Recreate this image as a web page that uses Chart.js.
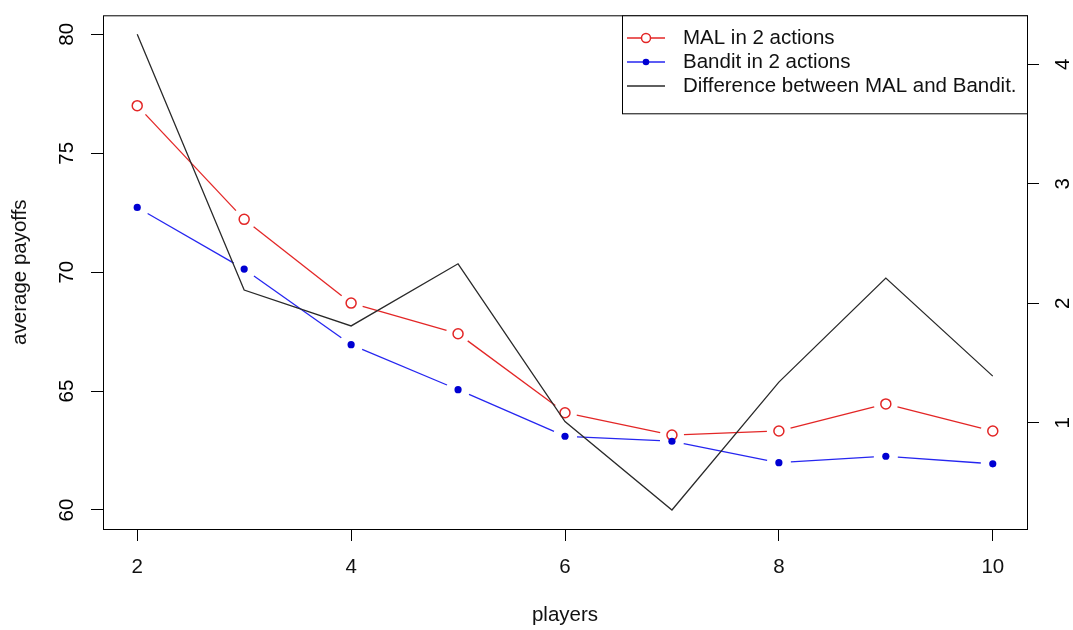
<!DOCTYPE html>
<html>
<head>
<meta charset="utf-8">
<title>average payoffs by players</title>
<script src="https://cdn.jsdelivr.net/npm/chart.js@4.4.1/dist/chart.umd.min.js"></script>
<style>
  html, body { margin: 0; padding: 0; background: #fff; }
  canvas { display: block; }
</style>
</head>
<body>
<canvas id="chart" width="1073" height="630"></canvas>
<script>
// values
const players = [2, 3, 4, 5, 6, 7, 8, 9, 10];
const malPayoffs = [77.0, 72.22, 68.70, 67.41, 64.09, 63.15, 63.32, 64.46, 63.32];
const banditPayoffs = [72.72, 70.13, 66.95, 65.06, 63.10, 62.89, 61.99, 62.26, 61.94];
const difference = [4.25, 2.11, 1.81, 2.33, 1.01, 0.27, 1.34, 2.21, 1.39];

// axis ticks
const xTicks = [2, 4, 6, 8, 10];
const payoffTicks = [60, 65, 70, 75, 80];
const diffTicks = [1, 2, 3, 4];
const payoffLimits = [60, 80];

const legendLabels = ["MAL in 2 actions", "Bandit in 2 actions", "Difference between MAL and Bandit."];

const FONT = "'Liberation Sans', Arial, Helvetica, sans-serif";
const FONT_SIZE = 20.5;
const RED = "#e32626";
const BLUE = "#2626f0";
const DOT_BLUE = "#0000d2";
const DARK = "#2a2a2a";

Chart.defaults.font.family = FONT;
Chart.defaults.font.size = FONT_SIZE;
Chart.defaults.color = "#000";

// R pads each axis range by 4%
function rRange(lo, hi) {
    const d = (hi - lo) * 0.04;
    return [lo - d, hi + d];
}

const xRange = rRange(players[0], players[players.length - 1]);
const yRange = rRange(payoffLimits[0], payoffLimits[1]);
const y2Range = rRange(Math.min(...difference), Math.max(...difference));

function points(ys) {
    return players.map((p, i) => ({ x: p, y: ys[i] }));
}

// type="b": leave a gap around each point
function gapDash(gap) {
    return ctx => {
        const len = Math.hypot(ctx.p1.x - ctx.p0.x, ctx.p1.y - ctx.p0.y);
        return [0, gap, Math.max(len - 2 * gap, 0), len + gap];
    };
}

function fixedTicks(values) {
    return scale => { scale.ticks = values.map(v => ({ value: v })); };
}

const tickGrid = {
    display: true,
    drawOnChartArea: false,
    drawTicks: true,
    tickLength: 12,
    color: "#000",
    lineWidth: 1
};

const rFrame = {
    id: "rFrame",
    afterDraw(chart) {
        const { ctx, chartArea: a, scales } = chart;
        ctx.save();

        // plot box
        ctx.strokeStyle = "#000";
        ctx.lineWidth = 1;
        ctx.strokeRect(a.left + 0.5, a.top + 0.5, a.right - a.left, a.bottom - a.top);

        // rotated y tick labels, like las=0
        ctx.fillStyle = "#000";
        ctx.font = FONT_SIZE + "px " + FONT;
        ctx.textAlign = "center";
        ctx.textBaseline = "middle";
        const sides = [[scales.y, payoffTicks, 67], [scales.y2, diffTicks, 1063]];
        for (const [scale, ticks, x] of sides) {
            for (const t of ticks) {
                ctx.save();
                ctx.translate(x, scale.getPixelForValue(t));
                ctx.rotate(-Math.PI / 2);
                ctx.fillText(String(t), 0, 0);
                ctx.restore();
            }
        }

        // legend, top right inside the box
        const box = { x: 622.5, y: a.top + 0.5, w: a.right - 622, h: 98 };
        ctx.fillStyle = "#fff";
        ctx.fillRect(box.x, box.y, box.w, box.h);
        ctx.strokeStyle = "#000";
        ctx.strokeRect(box.x, box.y, box.w, box.h);

        const rows = [38, 62, 86];
        const colors = [RED, BLUE, DARK];
        ctx.textAlign = "left";
        rows.forEach((ry, i) => {
            ctx.strokeStyle = colors[i];
            ctx.lineWidth = 1.3;
            ctx.beginPath();
            ctx.moveTo(627, ry);
            ctx.lineTo(665, ry);
            ctx.stroke();
            if (i === 0) {
                ctx.fillStyle = "#fff";
                ctx.lineWidth = 1.5;
                ctx.beginPath();
                ctx.arc(646, ry, 4.5, 0, Math.PI * 2);
                ctx.fill();
                ctx.stroke();
            } else if (i === 1) {
                ctx.fillStyle = DOT_BLUE;
                ctx.beginPath();
                ctx.arc(646, ry, 3.3, 0, Math.PI * 2);
                ctx.fill();
            }
            ctx.fillStyle = "#111";
            ctx.fillText(legendLabels[i], 683, ry);
        });

        ctx.restore();
    }
};

new Chart(document.getElementById("chart"), {
    type: "line",
    data: {
        datasets: [
            {
                label: legendLabels[0],
                data: points(malPayoffs),
                yAxisID: "y",
                order: 2,
                borderColor: RED,
                borderWidth: 1.3,
                pointRadius: 5,
                pointBorderWidth: 1.5,
                pointBorderColor: RED,
                pointBackgroundColor: "rgba(255,255,255,0)",
                tension: 0,
                segment: { borderDash: gapDash(12) }
            },
            {
                label: legendLabels[1],
                data: points(banditPayoffs),
                yAxisID: "y",
                order: 1,
                borderColor: BLUE,
                borderWidth: 1.3,
                pointRadius: 3.6,
                pointBorderWidth: 0,
                pointBackgroundColor: DOT_BLUE,
                tension: 0,
                segment: { borderDash: gapDash(12) }
            },
            {
                label: legendLabels[2],
                data: points(difference),
                yAxisID: "y2",
                order: 0,
                borderColor: DARK,
                borderWidth: 1.3,
                pointRadius: 0,
                tension: 0
            }
        ]
    },
    options: {
        responsive: false,
        animation: false,
        events: [],
        layout: { padding: { top: 12, left: 0, right: 0, bottom: 0 } },
        plugins: {
            legend: { display: false },
            tooltip: { enabled: false }
        },
        scales: {
            x: {
                type: "linear",
                min: xRange[0],
                max: xRange[1],
                afterBuildTicks: fixedTicks(xTicks),
                afterFit: s => { s.height = 101; },
                grid: tickGrid,
                border: { display: false },
                ticks: { color: "#111", padding: 14, maxRotation: 0, autoSkip: false },
                title: {
                    display: true,
                    text: "players",
                    color: "#111",
                    padding: { top: 0, bottom: 2 }
                }
            },
            y: {
                type: "linear",
                position: "left",
                min: yRange[0],
                max: yRange[1],
                afterBuildTicks: fixedTicks(payoffTicks),
                afterFit: s => { s.width = 103; },
                grid: tickGrid,
                border: { display: false },
                ticks: { color: "rgba(0,0,0,0)" },
                title: {
                    display: true,
                    text: "average payoffs",
                    color: "#111",
                    padding: { top: 8, bottom: 0 }
                }
            },
            y2: {
                type: "linear",
                position: "right",
                min: y2Range[0],
                max: y2Range[1],
                afterBuildTicks: fixedTicks(diffTicks),
                afterFit: s => { s.width = 46; },
                grid: tickGrid,
                border: { display: false },
                ticks: { color: "rgba(0,0,0,0)" }
            }
        }
    },
    plugins: [rFrame]
});
</script>
</body>
</html>
